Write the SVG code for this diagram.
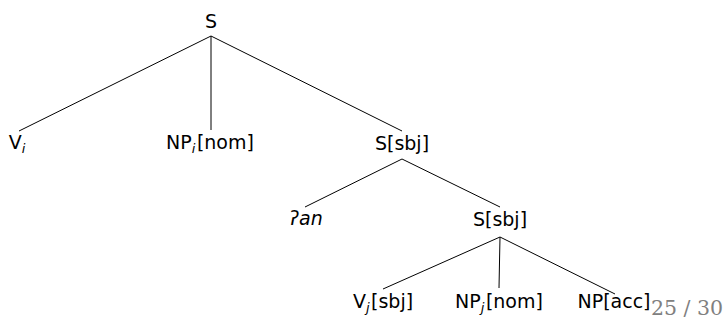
<svg xmlns="http://www.w3.org/2000/svg" width="726" height="324" viewBox="0 0 726 324">
<style>
.n{font-family:"DejaVu Sans","Liberation Sans",sans-serif;font-size:19px;fill:#000;text-anchor:middle}
.sub{font-size:13px;font-style:italic}
.it{font-style:italic}
.pg{font-family:"DejaVu Serif","Liberation Serif",serif;font-size:20.5px;fill:#808080}
.e{stroke:#000;stroke-width:1;fill:none}
</style>
<rect width="726" height="324" fill="#fff"/>
<g id="connectors">
<line class="e" x1="211" y1="36" x2="19" y2="131"/>
<line class="e" x1="211" y1="36" x2="211" y2="130"/>
<line class="e" x1="211" y1="36" x2="402" y2="131"/>
<line class="e" x1="402" y1="159" x2="305" y2="207"/>
<line class="e" x1="402" y1="159" x2="500" y2="207"/>
<line class="e" x1="500" y1="237" x2="383" y2="289"/>
<line class="e" x1="500" y1="237" x2="499" y2="288"/>
<line class="e" x1="500" y1="237" x2="615" y2="294"/>
</g>
<g id="node-S"><text class="n" x="211" y="28">S</text></g>
<g id="node-Vi"><text class="n" x="17" y="149">V<tspan class="sub" dy="4">i</tspan></text></g>
<g id="node-NPi"><text class="n" x="210" y="149">NP<tspan class="sub" dy="4">i</tspan><tspan dy="-4" dx="1.5">[nom]</tspan></text></g>
<g id="node-Ssbj1"><text class="n" x="402" y="150">S[sbj]</text></g>
<g id="node-an"><text class="n it" x="306" y="225">ʔan</text></g>
<g id="node-Ssbj2"><text class="n" x="500" y="226">S[sbj]</text></g>
<g id="node-Vj"><text class="n" x="383" y="308">V<tspan class="sub" dy="4">j</tspan><tspan dy="-4" dx="1.5">[sbj]</tspan></text></g>
<g id="node-NPj"><text class="n" x="499" y="308">NP<tspan class="sub" dy="4">j</tspan><tspan dy="-4" dx="1.5">[nom]</tspan></text></g>
<g id="node-NPacc"><text class="n" x="614" y="308">NP[acc]</text></g>
<text class="pg" x="651" y="315">25 / 30</text>
</svg>
